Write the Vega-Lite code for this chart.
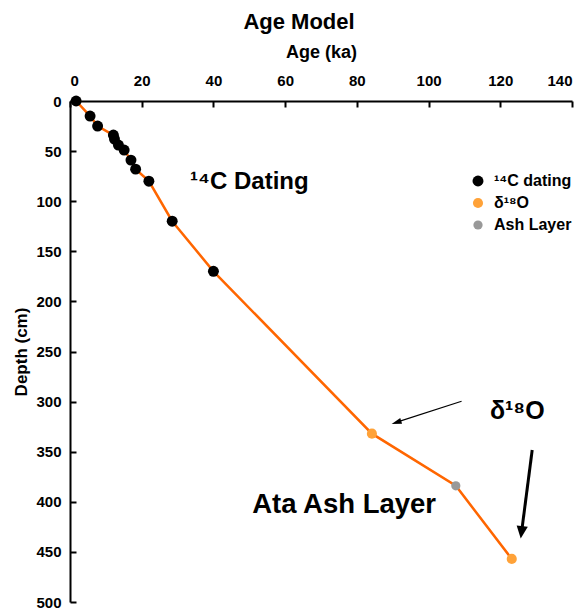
{
  "$schema": "https://vega.github.io/schema/vega-lite/v6.json",
  "width": 502,
  "height": 501,
  "autosize": {"type": "none"},
  "padding": {"left": 70, "top": 101, "right": 15, "bottom": 7},
  "background": "white",
  "title": {"text": "Age Model", "fontSize": 22, "fontWeight": "bold", "color": "black", "font": "Liberation Sans", "offset": 9, "dx": -22},
  "config": {
    "font": "Liberation Sans",
    "view": {"stroke": null},
    "axis": {
      "grid": false,
      "domainColor": "black",
      "domainWidth": 2,
      "tickColor": "black",
      "tickWidth": 2,
      "tickSize": -6,
      "labelFont": "Liberation Sans",
      "labelFontSize": 15,
      "labelFontWeight": "bold",
      "labelColor": "black",
      "titleFont": "Liberation Sans",
      "titleFontWeight": "bold",
      "titleColor": "black"
    },
    "legend": {
      "labelFont": "Liberation Sans",
      "labelFontSize": 16,
      "labelFontWeight": "bold",
      "labelColor": "black",
      "symbolType": "circle",
      "symbolSize": 60,
      "symbolStrokeWidth": 0
    }
  },
  "datasets": {
    "points": [
      {"age": 1.7, "depth": 0, "type": "¹⁴C dating"},
      {"age": 5.6, "depth": 15, "type": "¹⁴C dating"},
      {"age": 7.7, "depth": 25, "type": "¹⁴C dating"},
      {"age": 12.1, "depth": 34, "type": "¹⁴C dating"},
      {"age": 12.4, "depth": 38, "type": "¹⁴C dating"},
      {"age": 13.5, "depth": 44, "type": "¹⁴C dating"},
      {"age": 15.1, "depth": 49, "type": "¹⁴C dating"},
      {"age": 17.0, "depth": 59, "type": "¹⁴C dating"},
      {"age": 18.3, "depth": 68, "type": "¹⁴C dating"},
      {"age": 22.0, "depth": 80, "type": "¹⁴C dating"},
      {"age": 28.5, "depth": 120, "type": "¹⁴C dating"},
      {"age": 40.0, "depth": 170, "type": "¹⁴C dating"},
      {"age": 84.2, "depth": 332, "type": "δ¹⁸O"},
      {"age": 107.6, "depth": 384, "type": "Ash Layer"},
      {"age": 123.2, "depth": 457, "type": "δ¹⁸O"}
    ],
    "thinArrow": [{"age": 109.2, "depth": 299.7, "age_end": 91.8, "depth_end": 319.8, "tip_age": 89.7, "tip_depth": 322.3}],
    "thickArrow": [{"age": 128.9, "depth": 348.3, "age_end": 126.1, "depth_end": 425.8, "tip_age": 125.7, "tip_depth": 436.7}],
    "label14c": [{"age": 33.5, "depth": 88, "label": "¹⁴C Dating"}],
    "labelD18o": [{"age": 117.1, "depth": 317, "label": "δ¹⁸O"}],
    "labelAsh": [{"age": 50.8, "depth": 411, "label": "Ata Ash Layer"}]
  },
  "encoding": {
    "x": {
      "field": "age",
      "type": "quantitative",
      "scale": {"domain": [0, 140], "nice": false},
      "axis": {"orient": "top", "title": "Age (ka)", "values": [0, 20, 40, 60, 80, 100, 120, 140], "titleFontSize": 18, "labelPadding": 19, "titlePadding": 12}
    },
    "y": {
      "field": "depth",
      "type": "quantitative",
      "scale": {"domain": [0, 500], "reverse": true, "nice": false},
      "axis": {"orient": "left", "title": "Depth (cm)", "values": [0, 50, 100, 150, 200, 250, 300, 350, 400, 450, 500], "titleFontSize": 17, "labelPadding": 15, "titlePadding": 5}
    }
  },
  "layer": [
    {
      "data": {"name": "points"},
      "mark": {"type": "line", "color": "#ff6600", "strokeWidth": 2.5},
      "encoding": {"order": {"field": "depth", "type": "quantitative"}}
    },
    {
      "data": {"name": "points"},
      "mark": {"type": "circle", "opacity": 1},
      "encoding": {
        "color": {
          "field": "type",
          "type": "nominal",
          "scale": {"domain": ["¹⁴C dating", "δ¹⁸O", "Ash Layer"], "range": ["#000000", "#ffa238", "#999999"]},
          "legend": {"title": null, "orient": "none", "legendX": 400, "legendY": 72, "labelOffset": 8, "rowPadding": 6, "padding": 0}
        },
        "size": {
          "field": "type",
          "type": "nominal",
          "scale": {"domain": ["¹⁴C dating", "δ¹⁸O", "Ash Layer"], "range": [120, 85, 85]},
          "legend": null
        }
      }
    },
    {
      "data": {"name": "thinArrow"},
      "mark": {"type": "rule", "color": "black", "strokeWidth": 1.2},
      "encoding": {"x2": {"field": "age_end"}, "y2": {"field": "depth_end"}}
    },
    {
      "data": {"name": "thinArrow"},
      "mark": {"type": "point", "shape": "M0,0 L0.3,1 L-0.3,1 Z", "filled": true, "color": "black", "opacity": 1, "size": 400, "angle": 252},
      "encoding": {"x": {"field": "tip_age", "type": "quantitative"}, "y": {"field": "tip_depth", "type": "quantitative"}}
    },
    {
      "data": {"name": "thickArrow"},
      "mark": {"type": "rule", "color": "black", "strokeWidth": 3},
      "encoding": {"x2": {"field": "age_end"}, "y2": {"field": "depth_end"}}
    },
    {
      "data": {"name": "thickArrow"},
      "mark": {"type": "point", "shape": "M0,0 L0.45,1 L-0.45,1 Z", "filled": true, "color": "black", "opacity": 1, "size": 625, "angle": 187},
      "encoding": {"x": {"field": "tip_age", "type": "quantitative"}, "y": {"field": "tip_depth", "type": "quantitative"}}
    },
    {
      "data": {"name": "label14c"},
      "mark": {"type": "text", "align": "left", "baseline": "alphabetic", "fontSize": 24, "fontWeight": "bold", "color": "black"},
      "encoding": {"text": {"field": "label"}}
    },
    {
      "data": {"name": "labelD18o"},
      "mark": {"type": "text", "align": "left", "baseline": "alphabetic", "fontSize": 25, "fontWeight": "bold", "color": "black"},
      "encoding": {"text": {"field": "label"}}
    },
    {
      "data": {"name": "labelAsh"},
      "mark": {"type": "text", "align": "left", "baseline": "alphabetic", "fontSize": 27.5, "fontWeight": "bold", "color": "black"},
      "encoding": {"text": {"field": "label"}}
    }
  ]
}
